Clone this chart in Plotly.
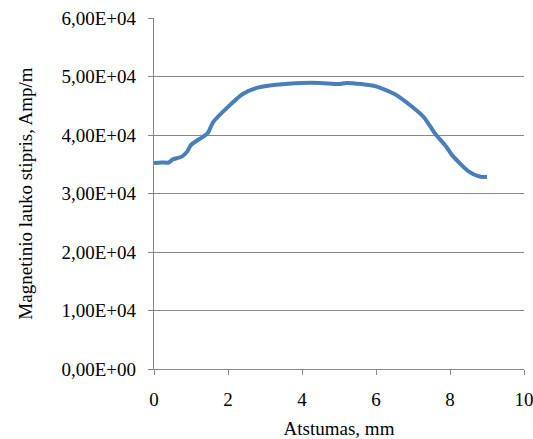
import plotly.graph_objects as go

distance_mm = [0, 0.2, 0.4, 0.5, 0.75, 0.9, 1.0, 1.3, 1.45, 1.6, 2.0, 2.4, 2.8, 3.3,
               4.0, 4.5, 5.0, 5.2, 5.6, 6.0, 6.5, 7.0, 7.3, 7.6, 7.9, 8.05, 8.5, 8.8, 9.0]
field_strength = [3.52e4, 3.53e4, 3.53e4, 3.58e4, 3.63e4, 3.72e4, 3.83e4, 3.96e4, 4.03e4,
                  4.22e4, 4.48e4, 4.70e4, 4.81e4, 4.86e4, 4.89e4, 4.89e4, 4.87e4, 4.89e4,
                  4.87e4, 4.83e4, 4.70e4, 4.47e4, 4.30e4, 4.02e4, 3.80e4, 3.66e4, 3.38e4,
                  3.29e4, 3.28e4]

y_tick_vals = [0, 10000, 20000, 30000, 40000, 50000, 60000]
y_tick_text = ["0,00E+00", "1,00E+04", "2,00E+04", "3,00E+04", "4,00E+04", "5,00E+04", "6,00E+04"]
x_tick_vals = [0, 2, 4, 6, 8, 10]
x_tick_text = ["0", "2", "4", "6", "8", "10"]

font_family = "Liberation Serif, Times New Roman, serif"
axis_color = "#868686"
fsize = 19

fig = go.Figure()
fig.add_trace(go.Scatter(
    x=distance_mm, y=field_strength, mode="lines",
    line=dict(color="#4a7ebb", width=4, shape="spline", smoothing=0.6),
    showlegend=False, hoverinfo="skip",
))

# page body margin is removed in post_script; the figure is a bit wider than the
# window so the last x tick label is not clipped by the svg edge
fig.update_layout(
    width=545, height=439,
    margin=dict(l=154, r=21, t=18, b=70),
    paper_bgcolor="white", plot_bgcolor="white",
    font=dict(family=font_family, size=fsize, color="black"),
    showlegend=False,
)
fig.update_xaxes(
    range=[0, 10], tickvals=x_tick_vals, ticktext=x_tick_text,
    showgrid=False, zeroline=False, automargin=False,
    showline=True, linecolor=axis_color, linewidth=1.3,
    ticks="outside", ticklen=5, tickcolor=axis_color, tickwidth=1.3,
    ticklabelstandoff=8, ticklabeloverflow="allow",
    title=dict(text="Atstumas, mm", font=dict(family=font_family, size=fsize), standoff=16),
    tickfont=dict(family=font_family, size=fsize),
)
fig.update_yaxes(
    range=[0, 60000], tickvals=y_tick_vals, ticktext=y_tick_text,
    showgrid=True, gridcolor=axis_color, gridwidth=1.3, zeroline=False, automargin=False,
    showline=True, linecolor=axis_color, linewidth=1.3,
    ticks="outside", ticklen=5, tickcolor=axis_color, tickwidth=1.3,
    ticklabelstandoff=8, ticklabeloverflow="allow",
    title=dict(text="Magnetinio lauko stipris, Amp/m", font=dict(family=font_family, size=fsize), standoff=23),
    tickfont=dict(family=font_family, size=fsize),
)

fig.write_html(
    "out.html",
    config={"displayModeBar": False},
    post_script="document.body.style.margin='0';document.body.style.overflow='hidden';",
)
